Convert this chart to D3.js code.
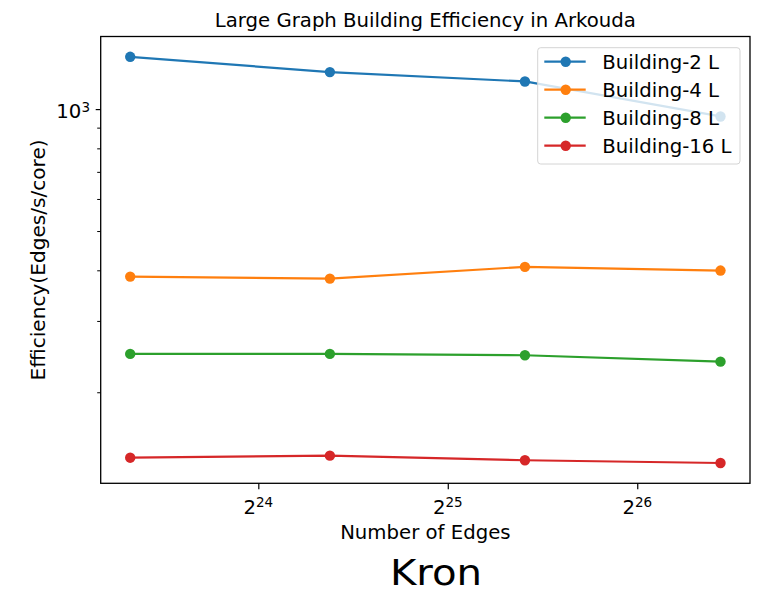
<!DOCTYPE html>
<html>
<head>
<meta charset="utf-8">
<script src="https://cdn.jsdelivr.net/npm/d3@7"></script>
<style>
  html, body { margin: 0; padding: 0; background: #fff; }
  text { font-family: "DejaVu Sans", sans-serif; fill: #000; }
</style>
</head>
<body>
<div id="chart"></div>
<script>
// --- data ---
const edges = [10.5e6, 21.8e6, 44.5e6, 91e6];
const seriesNames = ["Building-2 L", "Building-4 L", "Building-8 L", "Building-16 L"];
const seriesColors = ["#1f77b4", "#ff7f0e", "#2ca02c", "#d62728"];
const building2 = [1346, 1234, 1170, 959];
const building4 = [386, 381.6, 407.9, 399.4];
const building8 = [248.7, 248.7, 246.8, 238];
const building16 = [137.9, 139.5, 135.9, 133.8];
const xTicks = [24, 25, 26];          // powers of 2
const yMajor = [3];                   // powers of 10
const yMinor = [200, 300, 400, 500, 600, 700, 800, 900];

const allSeries = [building2, building4, building8, building16];

const W = 757, H = 592;
const plotLeft = 100.7, plotRight = 750, plotTop = 36.5, plotBottom = 483.3;
const FS = 19.7;

const svg = d3.select("#chart").append("svg")
    .attr("width", W).attr("height", H)
    .style("background", "#fff");

// --- scales, padded 5% in log space like matplotlib ---
function logPad(lo, hi, base) {
    const a = Math.log(lo) / Math.log(base), b = Math.log(hi) / Math.log(base);
    const p = (b - a) * 0.05;
    return [Math.pow(base, a - p), Math.pow(base, b + p)];
}
const allVals = allSeries.flat();
const x = d3.scaleLog().base(2)
    .domain(logPad(d3.min(edges), d3.max(edges), 2))
    .range([plotLeft, plotRight]);
const y = d3.scaleLog()
    .domain(logPad(d3.min(allVals), d3.max(allVals), 10))
    .range([plotBottom, plotTop]);

function label(parent, px, py, str, size, anchor) {
    return parent.append("text")
        .attr("x", px).attr("y", py)
        .attr("font-size", size)
        .attr("text-anchor", anchor)
        .text(str);
}

// --- axes ---
const xAxis = svg.append("g")
    .attr("transform", `translate(0,${plotBottom})`)
    .call(d3.axisBottom(x).tickValues(xTicks.map(p => Math.pow(2, p))).tickSize(6).tickFormat(""));
xAxis.select(".domain").remove();
xAxis.selectAll(".tick line").attr("stroke", "#000").attr("stroke-width", 1.2);

xTicks.forEach(p => {
    const t = svg.append("text")
        .attr("x", x(Math.pow(2, p))).attr("y", 514.3)
        .attr("text-anchor", "middle")
        .attr("font-size", FS);
    t.append("tspan").text("2");
    t.append("tspan").attr("dy", -7.2).attr("font-size", 13.5).text(p);
});

const yAxis = svg.append("g")
    .attr("transform", `translate(${plotLeft},0)`)
    .call(d3.axisLeft(y).tickValues(yMajor.map(p => Math.pow(10, p))).tickSize(5).tickFormat(""));
yAxis.select(".domain").remove();
yAxis.selectAll(".tick line").attr("stroke", "#000").attr("stroke-width", 1.2);

const yAxisMinor = svg.append("g")
    .attr("transform", `translate(${plotLeft},0)`)
    .call(d3.axisLeft(y).tickValues(yMinor).tickSize(3.5).tickFormat(""));
yAxisMinor.select(".domain").remove();
yAxisMinor.selectAll(".tick line").attr("stroke", "#000").attr("stroke-width", 1);

yMajor.forEach(p => {
    const t = svg.append("text")
        .attr("x", 90).attr("y", y(Math.pow(10, p)) + 8.8)
        .attr("text-anchor", "end")
        .attr("font-size", FS);
    t.append("tspan").text("10");
    t.append("tspan").attr("dy", -5.8).attr("font-size", 13.5).text(p);
});

// --- lines and markers ---
const line = d3.line().x((d, i) => x(edges[i])).y(d => y(d));
allSeries.forEach((vals, k) => {
    svg.append("path")
        .attr("d", line(vals))
        .attr("fill", "none")
        .attr("stroke", seriesColors[k])
        .attr("stroke-width", 2.2);
    svg.selectAll(null)
        .data(vals)
        .enter()
        .append("circle")
        .attr("cx", (d, i) => x(edges[i]))
        .attr("cy", d => y(d))
        .attr("r", 5.2)
        .attr("fill", seriesColors[k]);
});

// --- frame ---
svg.append("rect")
    .attr("x", plotLeft).attr("y", plotTop)
    .attr("width", plotRight - plotLeft).attr("height", plotBottom - plotTop)
    .attr("fill", "none").attr("stroke", "#000").attr("stroke-width", 1.3);

// --- legend ---
const lg = svg.append("g");
lg.append("rect")
    .attr("x", 537.7).attr("y", 47.7)
    .attr("width", 202.3).attr("height", 116.3)
    .attr("rx", 3)
    .attr("fill", "#fff").attr("fill-opacity", 0.8)
    .attr("stroke", "#d4d4d4").attr("stroke-width", 1);
const rowY = d3.scaleLinear().domain([0, 3]).range([61.7, 145.7]);
seriesNames.forEach((name, k) => {
    const ry = rowY(k);
    lg.append("line")
        .attr("x1", 544.3).attr("x2", 585.7)
        .attr("y1", ry).attr("y2", ry)
        .attr("stroke", seriesColors[k]).attr("stroke-width", 2.2);
    lg.append("circle")
        .attr("cx", 565.7).attr("cy", ry).attr("r", 5.2)
        .attr("fill", seriesColors[k]);
    label(lg, 602.3, ry + 6.8, name, FS, "start");
});

// --- titles ---
label(svg, (plotLeft + plotRight) / 2, 27, "Large Graph Building Efficiency in Arkouda", FS, "middle");
label(svg, (plotLeft + plotRight) / 2, 539, "Number of Edges", FS, "middle");
svg.append("text")
    .attr("transform", `translate(44.7,${(plotTop + plotBottom) / 2}) rotate(-90)`)
    .attr("text-anchor", "middle")
    .attr("font-size", 20.1)
    .text("Efficiency(Edges/s/core)");

svg.append("text")
    .attr("transform", `translate(436,585) scale(1.15,1)`)
    .attr("text-anchor", "middle")
    .attr("font-family", "'Open Sans', 'Noto Sans', sans-serif")
    .attr("font-size", 35)
    .text("Kron");
</script>
</body>
</html>
